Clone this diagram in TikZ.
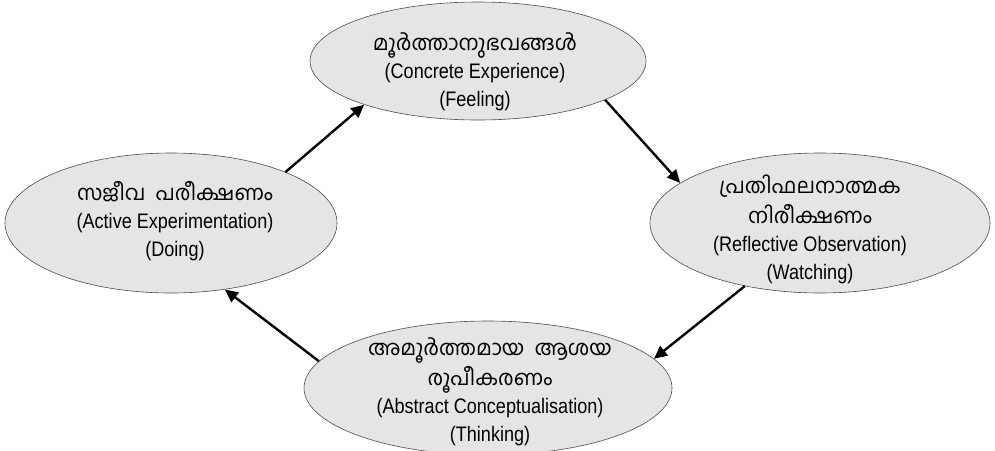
\documentclass[tikz,border=0pt]{standalone}
\usepackage{fontspec}
\setmainfont{Liberation Sans}[FakeStretch=0.86]
\newfontfamily\mlfont[Script=Malayalam]{Hind Kochi}
\usetikzlibrary{shapes.geometric,arrows.meta}
\tikzset{
  stage/.style={ellipse, draw=black!70, line width=0.6pt, fill=black!10, inner sep=0pt},
  caption/.style={align=center, font=\fontsize{21}{28}\selectfont},
  flow/.style={line width=2.4pt, -{Triangle[length=13pt,width=12pt]}},
}
\newcommand{\ml}[1]{{\mlfont\fontsize{21}{32}\selectfont #1}}
\begin{document}
\begin{tikzpicture}[x=1pt,y=-1pt]
\useasboundingbox (0,0) rectangle (995,450);

% the four stages of the cycle
\node[stage, minimum width=336, minimum height=118] (ce) at (478,61) {};
\node[stage, minimum width=340, minimum height=140] (ro) at (820,223) {};
\node[stage, minimum width=368, minimum height=134] (ac) at (488,388) {};
\node[stage, minimum width=332, minimum height=140] (ae) at (171,223) {};

% labels
\node[caption] (ceText) at (475,72) {\ml{മൂർത്താനുഭവങ്ങൾ}\\(Concrete Experience)\\(Feeling)};
\node[caption] (roText) at (810,229) {\ml{പ്രതിഫലനാത്മക}\\[2pt]\ml{നിരീക്ഷണം}\\(Reflective Observation)\\(Watching)};
\node[caption] (acText) at (490,392) {\ml{അമൂർത്തമായ\ \ ആശയ}\\[2pt]\ml{രൂപീകരണം}\\(Abstract Conceptualisation)\\(Thinking)};
\node[caption] (aeText) at (175,221) {\ml{സജീവ\ \ പരീക്ഷണം}\\(Active Experimentation)\\(Doing)};

% arrows round the cycle
\draw[flow] (ae.24.6) -- (ce.201.3);
\draw[flow] (ce.-17.4) -- (ro.164.7);
\draw[flow] (ro.220.5) -- (ac.10.4);
\draw[flow] (ac.171.4) -- (ae.-51.6);
\end{tikzpicture}
\end{document}
